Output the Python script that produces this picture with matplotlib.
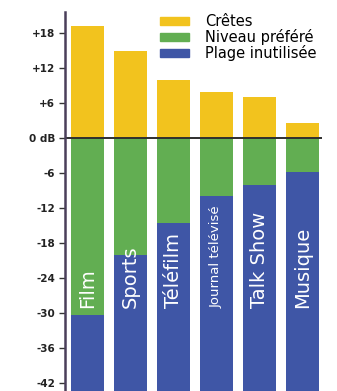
import matplotlib
matplotlib.use("Agg")
import matplotlib.pyplot as plt
from matplotlib.patches import Patch

categories = ["Film", "Sports", "Téléfilm", "Journal télévisé", "Talk Show", "Musique"]
cretes = [19.2, 14.9, 9.9, 7.9, 7.0, 2.6]          # peak, above 0 dB
niveau_bas = [-30.3, -20.0, -14.6, -10.0, -8.1, -5.8]  # lower edge of preferred level
plancher = -44                                      # unused range goes down to here
yticks = [18, 12, 6, 0, -6, -12, -18, -24, -30, -36, -42]
ytick_labels = ["+18", "+12", "+6", "0 dB", "-6", "-12", "-18", "-24", "-30", "-36", "-42"]
label_sizes = [14, 14, 14, 9.5, 14, 14]

jaune = "#F2C31E"
vert = "#62AE52"
bleu = "#3F56A6"

fig = plt.figure(figsize=(3.37, 3.91), dpi=100)
ax = fig.add_axes([65 / 337, 0, 257 / 337, 379 / 391])

x = list(range(len(categories)))
w = 0.76
ax.bar(x, cretes, width=w, color=jaune)
ax.bar(x, [-v for v in niveau_bas], bottom=niveau_bas, width=w, color=vert)
ax.bar(x, [v - plancher for v in niveau_bas], bottom=plancher, width=w, color=bleu)

for i, c in enumerate(categories):
    ax.text(i, -29.2, c, rotation=90, ha="center", va="bottom",
            color="white", fontsize=label_sizes[i])

ax.axhline(0, color="#2e2e2e", lw=1.4)

ax.set_xlim(-0.523, 5.45)
ax.set_ylim(-43.4, 21.6)
ax.set_xticks([])
ax.set_yticks(yticks)
ax.set_yticklabels(ytick_labels, fontsize=7.5, fontweight="bold", color="#222222")
ax.tick_params(axis="y", length=4, width=1, pad=3, color="#333333")

for s in ["top", "right", "bottom"]:
    ax.spines[s].set_visible(False)
ax.spines["left"].set_color("#4a3f5a")
ax.spines["left"].set_linewidth(1.8)

handles = [Patch(color=jaune, label="Crêtes"),
           Patch(color=vert, label="Niveau préféré"),
           Patch(color=bleu, label="Plage inutilisée")]
fig.legend(handles=handles, loc="upper left", bbox_to_anchor=(160 / 337, 1 - 14 / 391),
           frameon=False, fontsize=10.5, handlelength=2.0, handleheight=0.45,
           handletextpad=1.1, labelspacing=0.0, borderpad=0, borderaxespad=0)

fig.savefig("out.png", dpi=100)
